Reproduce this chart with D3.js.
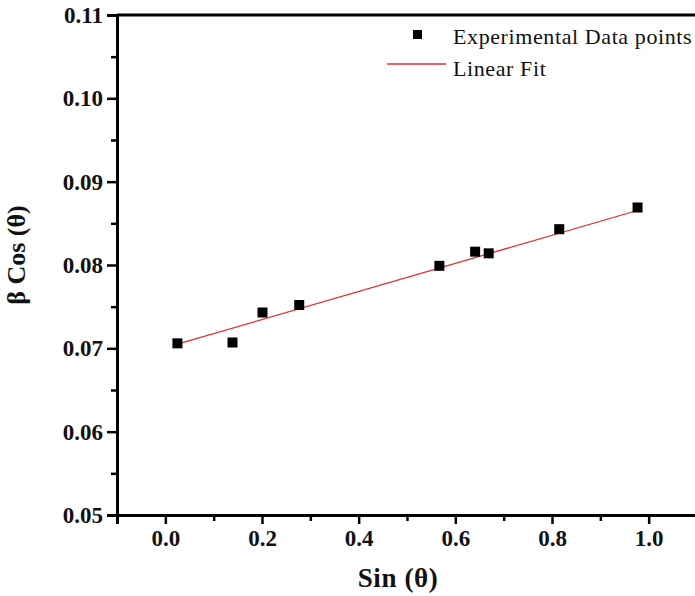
<!DOCTYPE html>
<html>
<head>
<meta charset="utf-8">
<style>
body { margin: 0; background: #fff; }
svg { display: block; font-family: "Liberation Serif", "DejaVu Serif", serif; }
</style>
</head>
<body>
<svg width="695" height="596"></svg>
<script src="https://cdn.jsdelivr.net/npm/d3@7"></script>
<script>
const sinTheta = [0.025, 0.139, 0.201, 0.277, 0.567, 0.641, 0.669, 0.815, 0.977];
const betaCos  = [0.0706, 0.0707, 0.0743, 0.0752, 0.0799, 0.0816, 0.0814, 0.0843, 0.0869];
// linear fit end points
const fitX = [0.025, 0.98];
const fitY = [0.0705, 0.0866];
const xTicks = [0.0, 0.2, 0.4, 0.6, 0.8, 1.0];
const yTicks = [0.05, 0.06, 0.07, 0.08, 0.09, 0.10, 0.11];
const legendLabels = ["Experimental Data points", "Linear Fit"];

const svg = d3.select("svg"),
      margin = {top: 15, right: -2, bottom: 81, left: 117},
      width = +svg.attr("width") - margin.left - margin.right,
      height = +svg.attr("height") - margin.top - margin.bottom,
      g = svg.append("g").attr("transform", `translate(${margin.left},${margin.top})`);

const x = d3.scaleLinear().domain([-0.1, 1.1]).range([0, width]),
      y = d3.scaleLinear().domain([0.05, 0.11]).range([height, 0]);

// minor ticks first
g.append("g")
  .attr("class", "axis minor")
  .attr("transform", `translate(0,${height})`)
  .call(d3.axisBottom(x).tickValues(d3.range(-0.1, 1.15, 0.2)).tickSize(6).tickFormat(""));
g.append("g")
  .attr("class", "axis minor")
  .call(d3.axisLeft(y).tickValues(d3.range(0.055, 0.11, 0.01)).tickSize(6).tickFormat(""));

// major ticks
g.append("g")
  .attr("class", "axis")
  .attr("transform", `translate(0,${height})`)
  .call(d3.axisBottom(x).tickValues(xTicks).tickSize(9).tickPadding(6).tickFormat(d3.format(".1f")));
g.append("g")
  .attr("class", "axis")
  .call(d3.axisLeft(y).tickValues(yTicks).tickSize(10).tickPadding(4).tickFormat(d3.format(".2f")));

g.selectAll(".axis path").attr("stroke", "#000").attr("stroke-width", 3);
g.selectAll(".axis line").attr("stroke", "#000").attr("stroke-width", 2.5);
g.selectAll(".axis text")
  .attr("fill", "#111")
  .style("font-size", "23px")
  .style("font-weight", "bold")
  .style("font-family", "'Liberation Serif', serif");

// top frame
g.append("line")
  .attr("x1", 0).attr("x2", width)
  .attr("y1", 0).attr("y2", 0)
  .attr("stroke", "#000").attr("stroke-width", 3);

// fit line
g.append("line")
  .attr("x1", x(fitX[0])).attr("y1", y(fitY[0]))
  .attr("x2", x(fitX[1])).attr("y2", y(fitY[1]))
  .attr("stroke", "#e03030").attr("stroke-width", 1.3);

// points
const s = 10;
g.append("g")
  .selectAll("rect")
  .data(sinTheta)
  .enter()
  .append("rect")
  .attr("x", (d) => x(d) - s/2)
  .attr("y", (d, i) => y(betaCos[i]) - s/2)
  .attr("width", s)
  .attr("height", s)
  .attr("fill", "#000");

// legend
const leg = svg.append("g");
leg.append("rect").attr("x", 413).attr("y", 30).attr("width", 9).attr("height", 9).attr("fill", "#000");
leg.append("line").attr("x1", 387).attr("x2", 446).attr("y1", 64).attr("y2", 64)
  .attr("stroke", "#e03030").attr("stroke-width", 1.3);
leg.selectAll("text")
  .data(legendLabels)
  .enter()
  .append("text")
  .attr("x", 453)
  .attr("y", (d, i) => 44 + i * 32)
  .style("font-size", "22px")
  .style("letter-spacing", "0.6px")
  .attr("fill", "#111")
  .text((d) => d);

// axis titles
svg.append("text")
  .attr("x", 398)
  .attr("y", 587)
  .style("text-anchor", "middle")
  .style("font-size", "27px")
  .style("font-weight", "bold")
  .style("letter-spacing", "0.6px")
  .attr("fill", "#111")
  .text("Sin (θ)");

svg.append("text")
  .attr("transform", "translate(25,255) rotate(-90)")
  .style("text-anchor", "middle")
  .style("font-size", "26px")
  .style("font-weight", "bold")
  .attr("fill", "#111")
  .text("β Cos (θ)");
</script>
</body>
</html>
